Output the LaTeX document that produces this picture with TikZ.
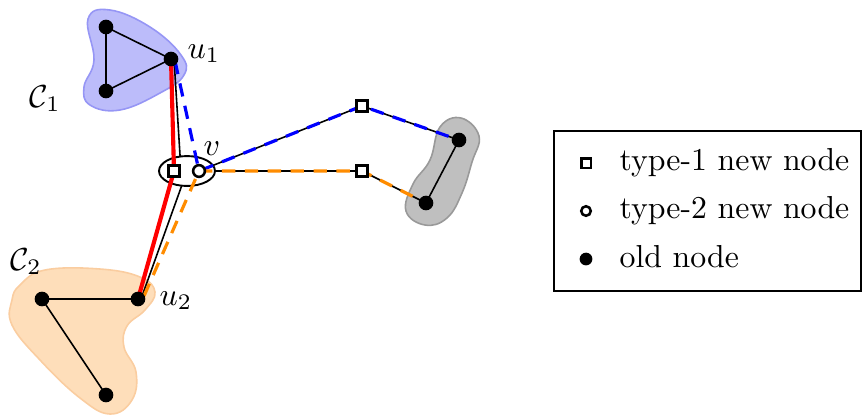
\documentclass[tikz,border=0pt]{standalone}
\usetikzlibrary{shapes.geometric,calc}
\definecolor{dorange}{RGB}{255,140,0}
\definecolor{blobblue}{RGB}{188,188,250}
\definecolor{blobblueedge}{RGB}{150,150,245}
\definecolor{blobor}{RGB}{254,222,186}
\definecolor{bloboredge}{RGB}{250,205,160}
\begin{document}
\begin{tikzpicture}[x=0.3144pt,y=-0.3144pt,
  old/.style={circle,fill=black,inner sep=0pt,minimum size=4.6pt},
  oldl/.style={circle,fill=black,inner sep=0pt,minimum size=4pt},
  tone/.style={draw,line width=0.8pt,fill=white,inner sep=0pt,minimum size=3.6pt},
  ttwo/.style={circle,draw,line width=0.8pt,fill=white,inner sep=0pt,minimum size=3.7pt},
  tonel/.style={draw,line width=0.8pt,fill=white,inner sep=0pt,minimum size=3pt},
  ttwol/.style={circle,draw,line width=0.8pt,fill=white,inner sep=0pt,minimum size=3pt},
  edge/.style={black,line width=0.5pt},
  bdash/.style={blue,line width=1pt,dash pattern=on 4.2pt off 3pt},
  odash/.style={dorange,line width=1pt,dash pattern=on 4.2pt off 3pt},
  redp/.style={red,line width=1.3pt},
  lbl/.style={anchor=base west,inner sep=0pt},
  legtext/.style={anchor=base west,inner sep=0pt}]
\useasboundingbox (0,0) rectangle (863,414);
% blobs
\draw[fill=blobblue,draw=blobblueedge,line width=0.5pt] plot[smooth cycle,tension=0.7] coordinates
  {(88,19) (110,10) (150,27) (181,55) (184,75) (160,93) (120,110) (90,105) (84,87) (94,60)};
\draw[fill=blobor,draw=bloboredge,line width=0.5pt] plot[smooth cycle,tension=0.7] coordinates
  {(20,285) (45,270) (100,269) (140,277) (155,292) (145,310) (127,326) (124,347) (136,372) (132,400) (110,414) (80,398) (40,360) (12,325) (12,300)};
\draw[fill=gray!50,draw=gray!80,line width=0.5pt] plot[smooth cycle,tension=0.7] coordinates
  {(461,118) (479,136) (472,162) (462,193) (447,218) (425,225) (406,211) (413,184) (430,160) (440,127)};
% nodes positions
\coordinate (a1) at (106,27);
\coordinate (a2) at (106,91);
\coordinate (u1) at (171,59);
\coordinate (b1) at (42,299);
\coordinate (b2) at (106,395);
\coordinate (u2) at (138,299);
\coordinate (g1) at (459,140);
\coordinate (g2) at (426,203);
\coordinate (s1) at (174,171);
\coordinate (v) at (199,171);
\coordinate (s2) at (362,106);
\coordinate (s3) at (362,171);
% black edges
\draw[edge] (a1) -- (u1) -- (a2) -- cycle;
\draw[edge] (b1) -- (u2);
\draw[edge] (b1) -- (b2);
\draw[edge] (g1) -- (g2);
\draw[edge] ($(u1)+(3,0)$) -- ($(s1)+(7,0)$);
\draw[edge] ($(u2)+(3,0)$) -- (187,171);
\draw[edge] (v) -- (s2) -- (g1);
\draw[edge] (v) -- (s3) -- (g2);
% contracted node
\node[ellipse,draw,line width=0.6pt,fill=white,minimum width=17.6pt,minimum height=9.4pt,inner sep=0pt] (e) at (187,171) {};
% coloured paths
\draw[redp] (u1) -- (s1) -- (u2);
\draw[bdash] ($(u1)+(4,2)$) -- (v) -- (s2) -- (g1);
\draw[odash] ($(u2)+(6,-3)$) -- (v);
\draw[odash] (v) -- (s3) -- (g2);
% node markers
\node[old] (na1) at (a1) {};
\node[old] (na2) at (a2) {};
\node[old] (nu1) at (u1) {};
\node[old] (nb1) at (b1) {};
\node[old] (nb2) at (b2) {};
\node[old] (nu2) at (u2) {};
\node[old] (ng1) at (g1) {};
\node[old] (ng2) at (g2) {};
\node[tone] (ns1) at (s1) {};
\node[ttwo] (nv) at (v) {};
\node[tone] (ns2) at (s2) {};
\node[tone] (ns3) at (s3) {};
% labels
\node[lbl] (lu1) at (187,58) {$u_1$};
\node[lbl] (lc1) at (29,107) {$\mathcal{C}_1$};
\node[lbl] (lv) at (203,155) {$v$};
\node[lbl] (lu2) at (159,305) {$u_2$};
\node[lbl] (lc2) at (10,270) {$\mathcal{C}_2$};
% legend
\node[draw,line width=0.5pt,minimum width=96.5pt,minimum height=50.3pt,inner sep=0pt] (leg) at (707.5,211) {};
\node[tonel] (k1) at (586,163) {};
\node[ttwol] (k2) at (586,211) {};
\node[oldl] (k3) at (586,259) {};
\node[legtext] (t1) at (619,170) {type-1 new node};
\node[legtext] (t2) at (619,218) {type-2 new node};
\node[legtext] (t3) at (619,267) {old node};
\end{tikzpicture}
\end{document}
